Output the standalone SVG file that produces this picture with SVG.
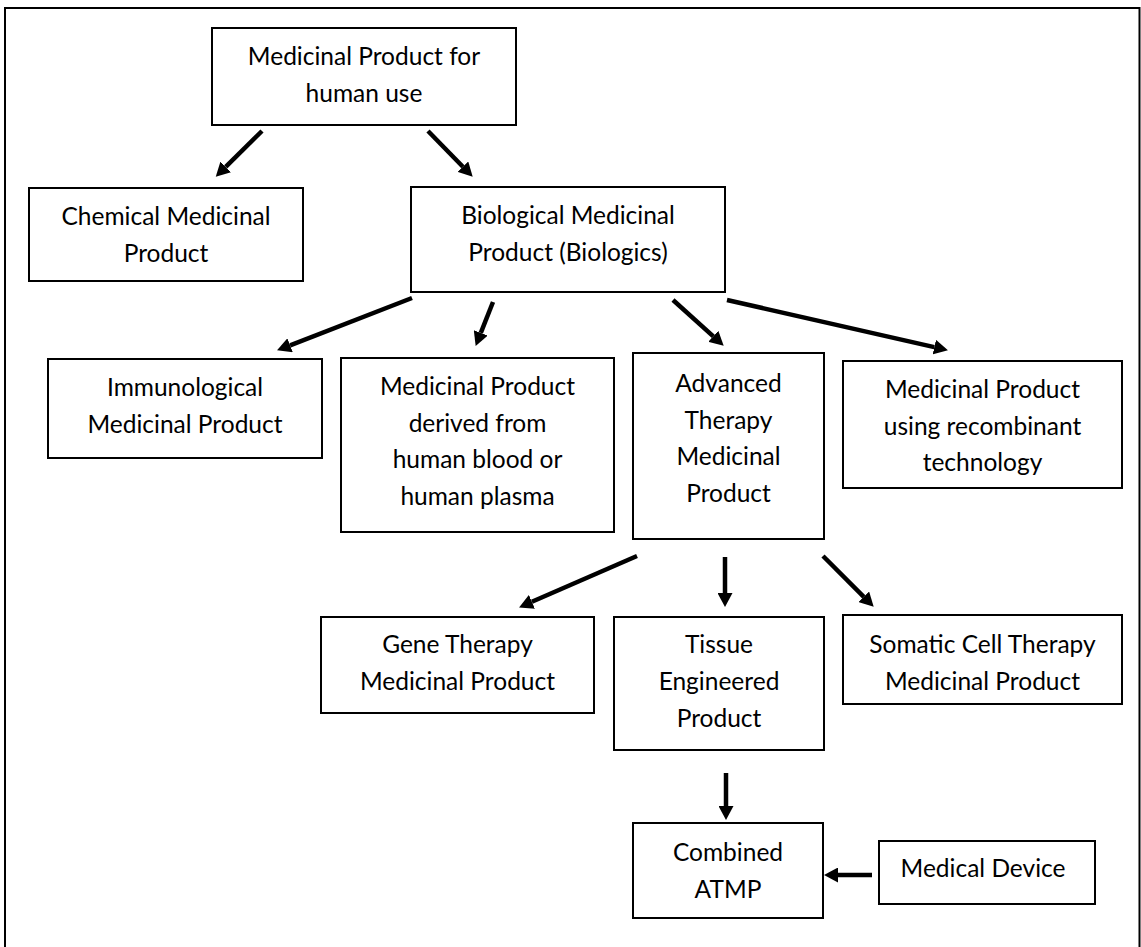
<svg xmlns="http://www.w3.org/2000/svg" width="1141" height="947" viewBox="0 0 1141 947">
<style>
.box{fill:#fff;stroke:#000;stroke-width:2}
.t{font-family:Lato,"Liberation Sans",sans-serif;font-size:24.5px;fill:#000;text-anchor:middle}
.c{fill:none;stroke:#000;stroke-width:4.5}
</style>
<defs>
<marker id="ah" viewBox="0 0 14 15" markerWidth="14" markerHeight="15" refX="0" refY="7.5" orient="auto" markerUnits="userSpaceOnUse">
<path d="M0,0 L14,7.5 L0,15 z" fill="#000"/>
</marker>
</defs>
<rect x="0" y="0" width="1141" height="947" fill="#fff"/>
<path d="M5,947 V8 H1139.5 V947" fill="none" stroke="#000" stroke-width="2"/>
<g id="connectors">
<line class="c" x1="262" y1="131" x2="225.7" y2="166.9" marker-end="url(#ah)"/>
<line class="c" x1="428" y1="131" x2="462.9" y2="166.7" marker-end="url(#ah)"/>
<line class="c" x1="412" y1="298" x2="290.1" y2="345.3" marker-end="url(#ah)"/>
<line class="c" x1="493" y1="302" x2="480.8" y2="332.9" marker-end="url(#ah)"/>
<line class="c" x1="673" y1="300" x2="713.3" y2="336.3" marker-end="url(#ah)"/>
<line class="c" x1="727" y1="300" x2="934.3" y2="347.1" marker-end="url(#ah)"/>
<line class="c" x1="637" y1="556" x2="531.9" y2="601.8" marker-end="url(#ah)"/>
<line class="c" x1="725" y1="557" x2="725" y2="593" marker-end="url(#ah)"/>
<line class="c" x1="823" y1="556" x2="863.8" y2="596.8" marker-end="url(#ah)"/>
<line class="c" x1="726" y1="773" x2="726" y2="806" marker-end="url(#ah)"/>
<line class="c" x1="872" y1="875" x2="838" y2="875" marker-end="url(#ah)"/>
</g>
<g id="n-top"><rect class="box" x="212" y="28" width="304" height="97"/>
<text class="t" x="364" y="65">Medicinal Product for</text><text class="t" x="364" y="101.7">human use</text></g>
<g id="n-chemical"><rect class="box" x="29" y="188" width="274" height="93"/>
<text class="t" x="166" y="225">Chemical Medicinal</text><text class="t" x="166" y="261.7">Product</text></g>
<g id="n-biological"><rect class="box" x="411" y="187" width="314" height="105"/>
<text class="t" x="568" y="224">Biological Medicinal</text><text class="t" x="568" y="260.7">Product (Biologics)</text></g>
<g id="n-immuno"><rect class="box" x="48" y="359" width="274" height="99"/>
<text class="t" x="185" y="396">Immunological</text><text class="t" x="185" y="432.7">Medicinal Product</text></g>
<g id="n-derived"><rect class="box" x="341" y="358" width="273" height="174"/>
<text class="t" x="477.5" y="395">Medicinal Product</text><text class="t" x="477.5" y="431.7">derived from</text><text class="t" x="477.5" y="468.4">human blood or</text><text class="t" x="477.5" y="505.1">human plasma</text></g>
<g id="n-atmp"><rect class="box" x="633" y="353" width="191" height="186"/>
<text class="t" x="728.5" y="392">Advanced</text><text class="t" x="728.5" y="428.7">Therapy</text><text class="t" x="728.5" y="465.4">Medicinal</text><text class="t" x="728.5" y="502.1">Product</text></g>
<g id="n-recombinant"><rect class="box" x="843" y="361" width="279" height="127"/>
<text class="t" x="982.5" y="398">Medicinal Product</text><text class="t" x="982.5" y="434.7">using recombinant</text><text class="t" x="982.5" y="471.4">technology</text></g>
<g id="n-gene"><rect class="box" x="321" y="617" width="273" height="96"/>
<text class="t" x="457.5" y="653">Gene Therapy</text><text class="t" x="457.5" y="690">Medicinal Product</text></g>
<g id="n-tissue"><rect class="box" x="614" y="617" width="210" height="133"/>
<text class="t" x="719" y="653">Tissue</text><text class="t" x="719" y="690">Engineered</text><text class="t" x="719" y="727">Product</text></g>
<g id="n-somatic"><rect class="box" x="843" y="615" width="279" height="89"/>
<text class="t" x="982.5" y="653">Somatic Cell Therapy</text><text class="t" x="982.5" y="689.5">Medicinal Product</text></g>
<g id="n-combined"><rect class="box" x="633" y="823" width="190" height="95"/>
<text class="t" x="728" y="861">Combined</text><text class="t" x="728" y="898">ATMP</text></g>
<g id="n-device"><rect class="box" x="879" y="841" width="216" height="63"/>
<text class="t" x="983" y="877">Medical Device</text></g>
</svg>
